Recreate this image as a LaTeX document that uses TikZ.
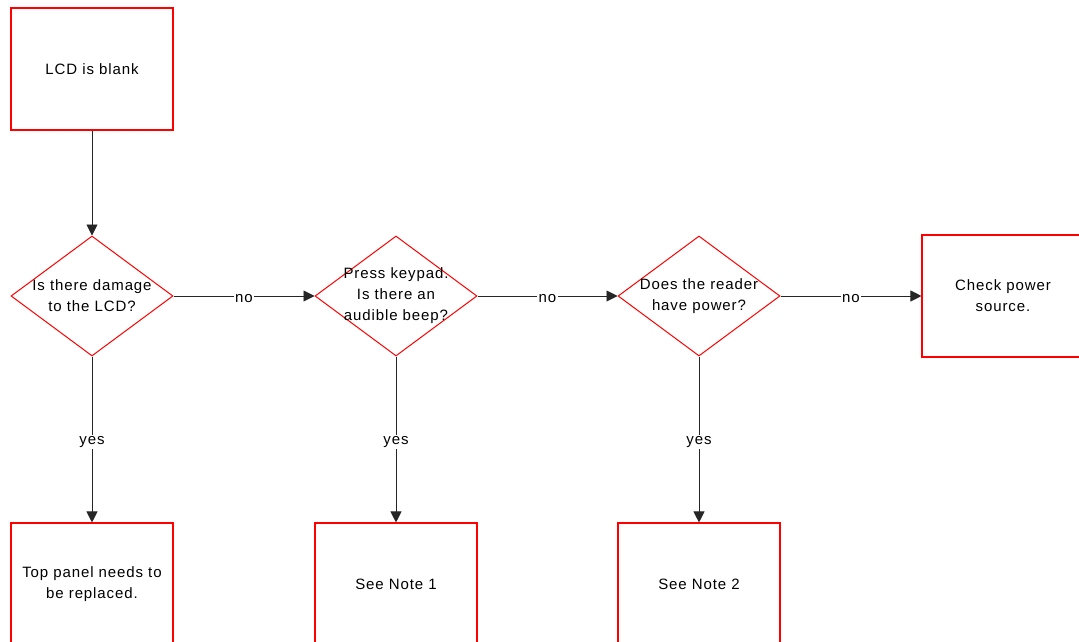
\documentclass[tikz,border=0pt]{standalone}
\usepackage{fontspec}
\setmainfont{Liberation Sans}[LetterSpace=6]
\usetikzlibrary{shapes.geometric,arrows.meta}
\definecolor{edgered}{RGB}{255,0,0}
\begin{document}
\begin{tikzpicture}[x=1pt,y=-1pt,
  every node/.style={font=\fontsize{15}{21}\selectfont},
  stepbox/.style={draw=edgered, line width=1.1pt, fill=white, minimum width=162pt, minimum height=122pt, inner sep=0pt, align=center},
  decision/.style={draw=edgered, line width=1pt, fill=white, diamond, minimum width=162pt, minimum height=120pt, inner sep=0pt},
  caption/.style={align=center, inner sep=0pt},
  flow/.style={draw=black!85, line width=0.9pt, -{Triangle[length=11pt,width=11pt]}},
  tag/.style={fill=white, inner sep=1.5pt, yshift=-2.5pt}]
  \clip (0,0) rectangle (1079,642);
  \fill[white] (0,0) rectangle (1079,642);

  % boxes and decisions
  \node[stepbox] (start) at (92,69) {LCD is blank};
  \node[decision] (q1) at (92,296) {};
  \node[decision] (q2) at (396,296) {};
  \node[decision] (q3) at (699,296) {};
  \node[stepbox] (power) at (1003,296) {Check power\\source.};
  \node[stepbox] (panel) at (92,584) {Top panel needs to\\be replaced.};
  \node[stepbox] (note1) at (396,584) {See Note 1};
  \node[stepbox] (note2) at (699,584) {See Note 2};

  % decision texts
  \node[caption] at (q1) {Is there damage\\to the LCD?};
  \node[caption] at (q2) {Press keypad.\\Is there an\\audible beep?};
  \node[caption] at (q3) {Does the reader\\have power?};

  % connectors
  \draw[flow] (start.south) -- (q1.north);
  \draw[flow] (q1.east) -- node[tag] {no} (q2.west);
  \draw[flow] (q2.east) -- node[tag] {no} (q3.west);
  \draw[flow] (q3.east) -- node[tag] {no} (power.west);
  \draw[flow] (q1.south) -- node[tag] {yes} (panel.north);
  \draw[flow] (q2.south) -- node[tag] {yes} (note1.north);
  \draw[flow] (q3.south) -- node[tag] {yes} (note2.north);
\end{tikzpicture}
\end{document}
